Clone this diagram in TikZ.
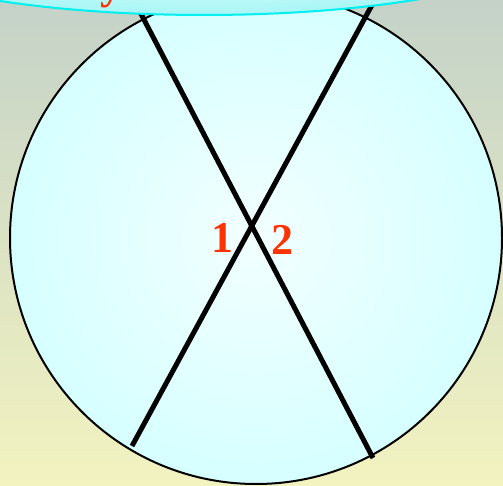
\documentclass[tikz,border=0pt]{standalone}
\usepackage{fontspec}
\setmainfont{Liberation Serif}
\definecolor{bgtop}{HTML}{C4D2C8}
\definecolor{bgbot}{HTML}{F3F3C0}
\definecolor{discin}{HTML}{F2FFFF}
\definecolor{discout}{HTML}{D6FFFF}
\definecolor{lensout}{HTML}{A8F6F6}
\definecolor{lensline}{HTML}{00F0F0}
\definecolor{lblred}{HTML}{FF3300}
\tikzset{
  rod/.style={line width=5pt, black},
  lbl/.style={text=lblred, font=\bfseries\fontsize{44}{44}\selectfont, inner sep=0pt},
}
\begin{document}
\begin{tikzpicture}[x=1pt,y=-1pt]
\useasboundingbox (0,0) rectangle (503,486);
\begin{scope}
\clip (0,0) rectangle (503,486);
\shade[top color=bgtop, bottom color=bgbot] (0,0) rectangle (503,486);
\shade[inner color=discin, outer color=discout, draw=black, line width=2pt]
  (256,238) circle[radius=246];
\coordinate (a1) at (140,12);
\coordinate (a2) at (373,458);
\coordinate (b1) at (372,5);
\coordinate (b2) at (132,446);
\draw[rod] (a1) -- (a2);
\draw[rod] (b1) -- (b2);
\node[lbl] (one) at (222,238) {1};
\node[lbl] (two) at (282,240) {2};
\shade[inner color=white, outer color=lensout, draw=lensline, line width=2pt]
  (204,-60) ellipse[x radius=350, y radius=75];
\node[lbl, anchor=south] (top) at (111,8) {y};
\end{scope}
\end{tikzpicture}
\end{document}
